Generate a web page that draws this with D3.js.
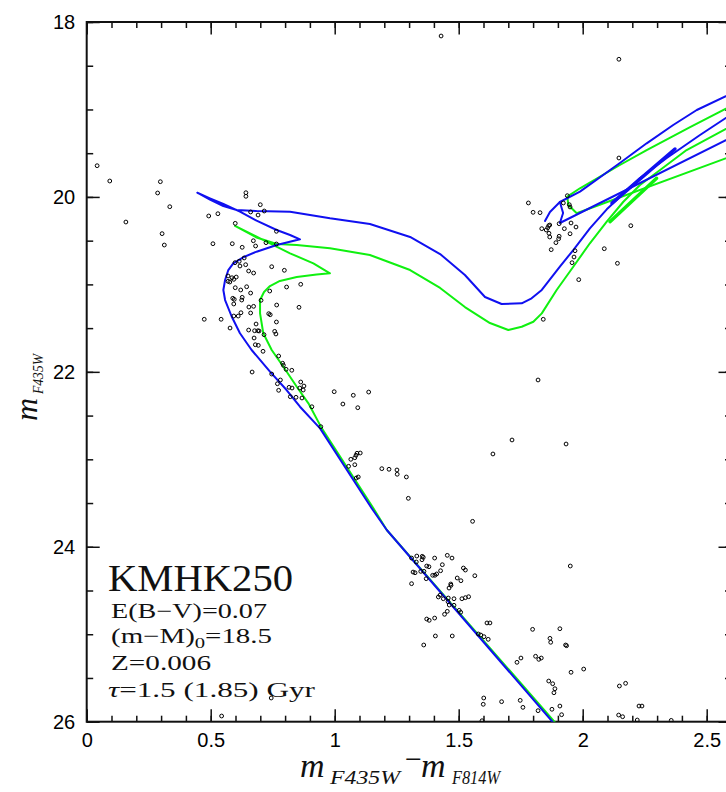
<!DOCTYPE html>
<html><head><meta charset="utf-8">
<script src="https://cdn.jsdelivr.net/npm/d3@7"></script>
<style>body{margin:0;background:#fff}svg{display:block}</style>
</head><body>
<script>
// ---- data ----
const xDomain = [0, 2.6];
const yDomain = [18, 26];
const xMajorTicks = [0, 0.5, 1, 1.5, 2, 2.5];
const yMajorTicks = [18, 20, 22, 24, 26];
const xMinorTicks = d3.range(0, 26.01, 1).map(d => d / 10);
const yMinorTicks = d3.range(36, 52.01, 1).map(d => d / 2);

// observed stars: [colour, magnitude]
const stars = [
[0.042,19.643],[0.093,19.818],[0.297,19.826],[0.286,19.955],[0.335,20.112],[0.158,20.287],[0.304,20.420],[0.313,20.550],
[0.492,20.218],[0.529,20.192],[0.642,19.952],[0.642,19.993],[0.599,20.302],[0.509,20.535],[0.587,20.535],[0.627,20.576],
[1.429,18.160],[2.146,18.426],
[0.700,20.089],[0.661,20.172],[0.716,20.161],[0.691,20.207],[0.765,20.393],[0.672,20.501],[0.681,20.561],[0.723,20.523],
[0.765,20.538],[0.635,20.698],[0.615,20.736],[0.598,20.752],[0.618,20.790],[0.641,20.775],[0.746,20.798],[0.797,20.839],
[0.653,20.847],[0.673,20.870],[0.570,20.904],[0.586,20.924],[0.603,20.916],[0.593,20.942],[0.570,20.965],[0.577,20.973],
[0.863,20.999],[0.806,21.030],[0.645,21.027],[0.599,21.038],[0.621,21.064],[0.738,21.076],[0.661,21.099],[0.627,21.148],
[0.589,21.159],[0.625,21.179],[0.595,21.171],[0.703,21.182],[0.593,21.224],[0.766,21.236],[0.856,21.262],[0.654,21.259],
[0.673,21.251],[0.622,21.324],[0.661,21.327],[0.734,21.335],[0.740,21.347],[0.611,21.362],[0.593,21.362],[0.474,21.399],
[0.542,21.399],
[0.765,21.430],[0.683,21.453],[0.578,21.499],[0.653,21.522],[0.677,21.530],[0.690,21.530],[0.695,21.533],[0.758,21.537],
[0.763,21.567],[0.715,21.575],[0.675,21.613],[0.680,21.690],[0.692,21.697],[0.711,21.765],[0.774,21.819],[0.790,21.902],
[0.793,21.925],[0.804,21.971],[0.827,21.982],[0.667,22.002],[0.746,22.025],[0.781,22.093],[0.863,22.116],[0.769,22.136],
[0.876,22.162],[0.859,22.185],[0.873,22.208],[0.816,22.177],[0.828,22.185],[0.774,22.211],[0.998,22.227],[0.821,22.284],
[0.844,22.291],[0.868,22.299],[0.908,22.399],[0.944,22.627],
[1.075,22.268],[1.137,22.231],[1.033,22.368],[1.093,22.410],[1.090,22.931],[1.103,22.928],[1.086,22.954],[1.081,22.982],
[1.065,23.000],[1.081,23.062],[1.056,23.080],[1.095,23.202],[1.087,23.214],[1.190,23.107],[1.219,23.114],[1.251,23.122],
[1.252,23.171],[1.289,23.202],[1.297,23.446],
[1.638,22.939],[1.715,22.779],[1.820,22.093],[1.556,23.709],[1.950,24.220],[1.933,22.825],
[1.310,24.129],[1.331,24.106],[1.353,24.109],[1.357,24.121],[1.352,24.148],[1.329,24.174],[1.403,24.129],[1.454,24.098],
[1.473,24.129],[1.316,24.289],[1.324,24.297],[1.347,24.281],[1.360,24.281],[1.371,24.220],[1.380,24.228],[1.434,24.205],
[1.427,24.274],[1.395,24.326],[1.404,24.326],[1.411,24.311],[1.369,24.365],[1.310,24.422],[1.519,24.243],[1.527,24.266],
[1.565,24.331],[1.494,24.357],[1.509,24.388],[1.468,24.426],[1.469,24.441],[1.461,24.472],[1.425,24.552],[1.418,24.574],
[1.438,24.594],[1.458,24.586],[1.481,24.594],[1.457,24.628],[1.462,24.666],[1.481,24.669],[1.513,24.594],[1.527,24.582],
[1.540,24.571],[1.454,24.738],[1.443,24.772],[1.502,24.727],[1.508,24.749],[1.371,24.826],[1.381,24.841],[1.403,24.815],
[1.359,25.123],[1.406,25.020],[1.474,25.020],[1.614,24.871],[1.626,24.871],[1.579,24.997],[1.589,25.009],[1.602,25.028],
[1.619,25.058],[1.798,24.944],[1.908,24.937],[1.868,25.047],[1.871,25.092],[1.931,25.123],[1.935,25.131],[1.735,25.321],
[1.751,25.272],[1.810,25.252],[1.823,25.287],[1.833,25.272],[1.953,25.435],[2.004,25.398],[1.863,25.535],[1.879,25.566],
[1.888,25.623],[1.884,25.669],[1.601,25.729],[1.599,25.801],[1.673,25.771],[1.748,25.756],[1.759,25.836],[1.820,25.874],
[1.876,25.858],[1.908,25.821],[1.915,25.920],[2.148,25.592],[2.173,25.561],[2.227,25.821],[2.239,25.821],[2.145,25.924],
[2.161,25.943],[2.220,25.981],[2.357,25.985],[1.594,25.989],[0.544,25.935],[0.744,25.729],
[2.146,19.555],[1.781,20.069],[1.800,20.176],[1.828,20.180],[1.938,19.986],[1.922,20.069],[1.946,20.089],[1.949,20.115],
[1.905,20.306],[1.835,20.363],[1.853,20.378],[1.863,20.329],[1.867,20.321],[1.859,20.352],[1.864,20.416],[1.867,20.458],
[1.905,20.450],[1.903,20.478],[1.892,20.523],[1.873,20.603],[1.926,20.363],[1.953,20.298],[1.973,20.344],[1.949,20.421],
[2.194,20.329],[1.969,20.615],[1.965,20.687],[1.957,20.752],[2.087,20.592],[2.140,20.759],[1.984,20.946],[1.841,21.399]
];

// 1.5 Gyr isochrone (blue)
const blueMain = [
[1.884,26.02],[1.210,23.808],[1.149,23.560],[0.941,22.646],[0.860,22.399],[0.806,22.208],[0.739,21.998],[0.665,21.750],
[0.618,21.559],[0.585,21.370],[0.558,21.179],[0.551,21.064],[0.558,20.950],[0.571,20.836],[0.591,20.759],[0.631,20.690],
[0.685,20.626],[0.766,20.550],[0.860,20.485],[0.820,20.435],[0.766,20.378],[0.685,20.272],[0.618,20.169],[0.551,20.081],
[0.497,20.016],[0.446,19.952],[0.497,20.030],[0.551,20.104],[0.605,20.150],[0.685,20.161],[0.820,20.169],[0.981,20.245],
[1.142,20.310],[1.304,20.458],[1.425,20.653],[1.525,20.893],[1.606,21.144],[1.673,21.224],[1.754,21.216],[1.794,21.159],
[1.835,21.064],[1.908,20.798],[1.962,20.607],[2.029,20.359],[2.097,20.142],[2.137,20.035],[2.231,19.784],[2.339,19.555],
[2.473,19.292],[2.614,19.029]
];
const blueUpper = [
[1.848,20.275],[1.868,20.172],[1.908,20.058],[1.989,19.940],[2.150,19.612],[2.258,19.387],[2.365,19.178],[2.460,19.006],[2.614,18.800]
];
const blueLower = [[1.908,20.058],[1.921,20.184],[1.908,20.298],[2.614,19.298]];
const blueThick = [[2.118,20.070],[2.372,19.452]];

// 1.85 Gyr isochrone (green)
const greenMain = [
[1.892,26.02],[1.210,23.808],[1.156,23.560],[0.948,22.646],[0.894,22.360],[0.847,22.170],[0.793,21.941],[0.746,21.750],
[0.712,21.559],[0.699,21.331],[0.699,21.179],[0.715,21.087],[0.739,21.019],[0.779,20.961],[0.847,20.916],[0.927,20.887],
[0.981,20.873],[0.914,20.759],[0.820,20.645],[0.739,20.530],[0.685,20.455],[0.598,20.332],[0.685,20.464],[0.766,20.538],
[0.847,20.550],[0.981,20.587],[1.142,20.664],[1.304,20.836],[1.425,21.041],[1.525,21.259],[1.626,21.442],[1.700,21.522],
[1.754,21.484],[1.801,21.427],[1.835,21.331],[1.895,21.064],[1.962,20.798],[2.029,20.530],[2.097,20.283],[2.164,20.055],
[2.231,19.864],[2.312,19.692],[2.419,19.464],[2.614,19.166]
];
const greenHeB = [
[2.614,18.938],[2.433,19.203],[2.258,19.464],[2.150,19.635],[1.989,19.901],[1.938,19.997],[1.942,20.092],[1.976,20.187],[2.614,19.520]
];
const greenThick = [[2.110,20.283],[2.298,19.787]];

// ---- drawing ----
const W = 726, H = 792;
const L = 86.7, T = 22, R = 731.5, B = 721.7;
const x = d3.scaleLinear().domain(xDomain).range([L, R]);
const y = d3.scaleLinear().domain(yDomain).range([T, B]);

const svg = d3.select("body").append("svg").attr("width", W).attr("height", H);
svg.append("defs").append("clipPath").attr("id", "clip")
  .append("rect").attr("x", L).attr("y", T).attr("width", R - L).attr("height", B - T);

const tickFont = "'Liberation Sans', Arial, sans-serif";
const fmt = d3.format("~g");

function styleAxis(g) {
  g.select(".domain").remove();
  g.selectAll(".tick line").attr("stroke", "#111").attr("stroke-width", 1.5);
  g.selectAll("text").attr("font-family", tickFont).attr("font-size", 20).attr("fill", "#000");
}
// bottom
svg.append("g").attr("transform", `translate(0,${B})`)
  .call(d3.axisBottom(x).tickValues(xMinorTicks).tickSize(-6).tickFormat(""))
  .call(styleAxis);
svg.append("g").attr("transform", `translate(0,${B})`)
  .call(d3.axisBottom(x).tickValues(xMajorTicks).tickSize(-12.5).tickPadding(11).tickFormat(fmt))
  .call(styleAxis);
// top
svg.append("g").attr("transform", `translate(0,${T})`)
  .call(d3.axisTop(x).tickValues(xMinorTicks).tickSize(-6).tickFormat(""))
  .call(styleAxis);
svg.append("g").attr("transform", `translate(0,${T})`)
  .call(d3.axisTop(x).tickValues(xMajorTicks).tickSize(-12.5).tickFormat(""))
  .call(styleAxis);
// left
svg.append("g").attr("transform", `translate(${L},0)`)
  .call(d3.axisLeft(y).tickValues(yMinorTicks).tickSize(-6.5).tickFormat(""))
  .call(styleAxis);
svg.append("g").attr("transform", `translate(${L},0)`)
  .call(d3.axisLeft(y).tickValues(yMajorTicks).tickSize(-13).tickPadding(11.5).tickFormat(fmt))
  .call(styleAxis);
// right
svg.append("g").attr("transform", `translate(${R},0)`)
  .call(d3.axisRight(y).tickValues(yMinorTicks).tickSize(-6.5).tickFormat(""))
  .call(styleAxis);
svg.append("g").attr("transform", `translate(${R},0)`)
  .call(d3.axisRight(y).tickValues(yMajorTicks).tickSize(-13).tickFormat(""))
  .call(styleAxis);

// frame
svg.append("rect").attr("x", L).attr("y", T).attr("width", R - L).attr("height", B - T)
  .attr("fill", "none").attr("stroke", "#111").attr("stroke-width", 2);

// isochrones
const line = d3.line().x(d => x(d[0])).y(d => y(d[1]));
const gl = svg.append("g").attr("clip-path", "url(#clip)").attr("fill", "none")
  .attr("stroke-linejoin", "round").attr("stroke-linecap", "round");
const blue = "#1010f0", green = "#10f010";
[[greenMain, green, 2], [greenHeB, green, 2], [greenThick, green, 3.5],
 [blueMain, blue, 2], [blueUpper, blue, 2], [blueLower, blue, 2], [blueThick, blue, 3.5]]
 .forEach(([d, c, w]) => gl.append("path").attr("d", line(d)).attr("stroke", c).attr("stroke-width", w));

// stars
svg.append("g").attr("clip-path", "url(#clip)").selectAll("circle").data(stars).join("circle")
  .attr("cx", d => x(d[0])).attr("cy", d => y(d[1])).attr("r", 1.9)
  .attr("fill", "none").attr("stroke", "#000").attr("stroke-width", 1);

// annotation
const serif = "'Liberation Serif', 'DejaVu Serif', serif";
const ann = svg.append("g").attr("font-family", serif).attr("fill", "#111");
ann.append("text").attr("x", 108).attr("y", 591).attr("font-size", 37)
  .attr("textLength", 185).attr("lengthAdjust", "spacingAndGlyphs").text("KMHK250");
ann.append("text").attr("x", 111).attr("y", 618).attr("font-size", 21)
  .attr("textLength", 156).attr("lengthAdjust", "spacingAndGlyphs").text("E(B−V)=0.07");
const t2 = ann.append("text").attr("x", 111).attr("y", 643).attr("font-size", 21)
  .attr("textLength", 161).attr("lengthAdjust", "spacingAndGlyphs");
t2.append("tspan").text("(m−M)");
t2.append("tspan").attr("font-size", 15).attr("dy", 5).text("0");
t2.append("tspan").attr("dy", -5).text("=18.5");
ann.append("text").attr("x", 111).attr("y", 670).attr("font-size", 21)
  .attr("textLength", 100).attr("lengthAdjust", "spacingAndGlyphs").text("Z=0.006");
const t4 = ann.append("text").attr("x", 108).attr("y", 697).attr("font-size", 21)
  .attr("textLength", 207).attr("lengthAdjust", "spacingAndGlyphs");
t4.append("tspan").attr("font-style", "italic").text("τ");
t4.append("tspan").text("=1.5 (1.85) Gyr");

// axis titles
const at = svg.append("g").attr("font-family", serif).attr("font-style", "italic").attr("fill", "#111");
at.append("text").attr("x", 300).attr("y", 777).attr("font-size", 34).text("m");
at.append("text").attr("x", 330).attr("y", 784).attr("font-size", 19)
  .attr("textLength", 70).attr("lengthAdjust", "spacingAndGlyphs").text("F435W");
svg.append("text").attr("x", 405).attr("y", 769).attr("font-family", serif).attr("font-size", 30).attr("fill", "#111").text("−");
at.append("text").attr("x", 421).attr("y", 777).attr("font-size", 34).text("m");
at.append("text").attr("x", 452).attr("y", 784).attr("font-size", 19)
  .attr("textLength", 48).attr("lengthAdjust", "spacingAndGlyphs").text("F814W");

const yt = svg.append("g").attr("transform", "translate(37,421) rotate(-90)")
  .attr("font-family", serif).attr("font-style", "italic").attr("fill", "#111");
yt.append("text").attr("x", 0).attr("y", 0).attr("font-size", 32).text("m");
yt.append("text").attr("x", 27).attr("y", 6).attr("font-size", 15)
  .attr("textLength", 40).attr("lengthAdjust", "spacingAndGlyphs").text("F435W");
</script>
</body></html>
